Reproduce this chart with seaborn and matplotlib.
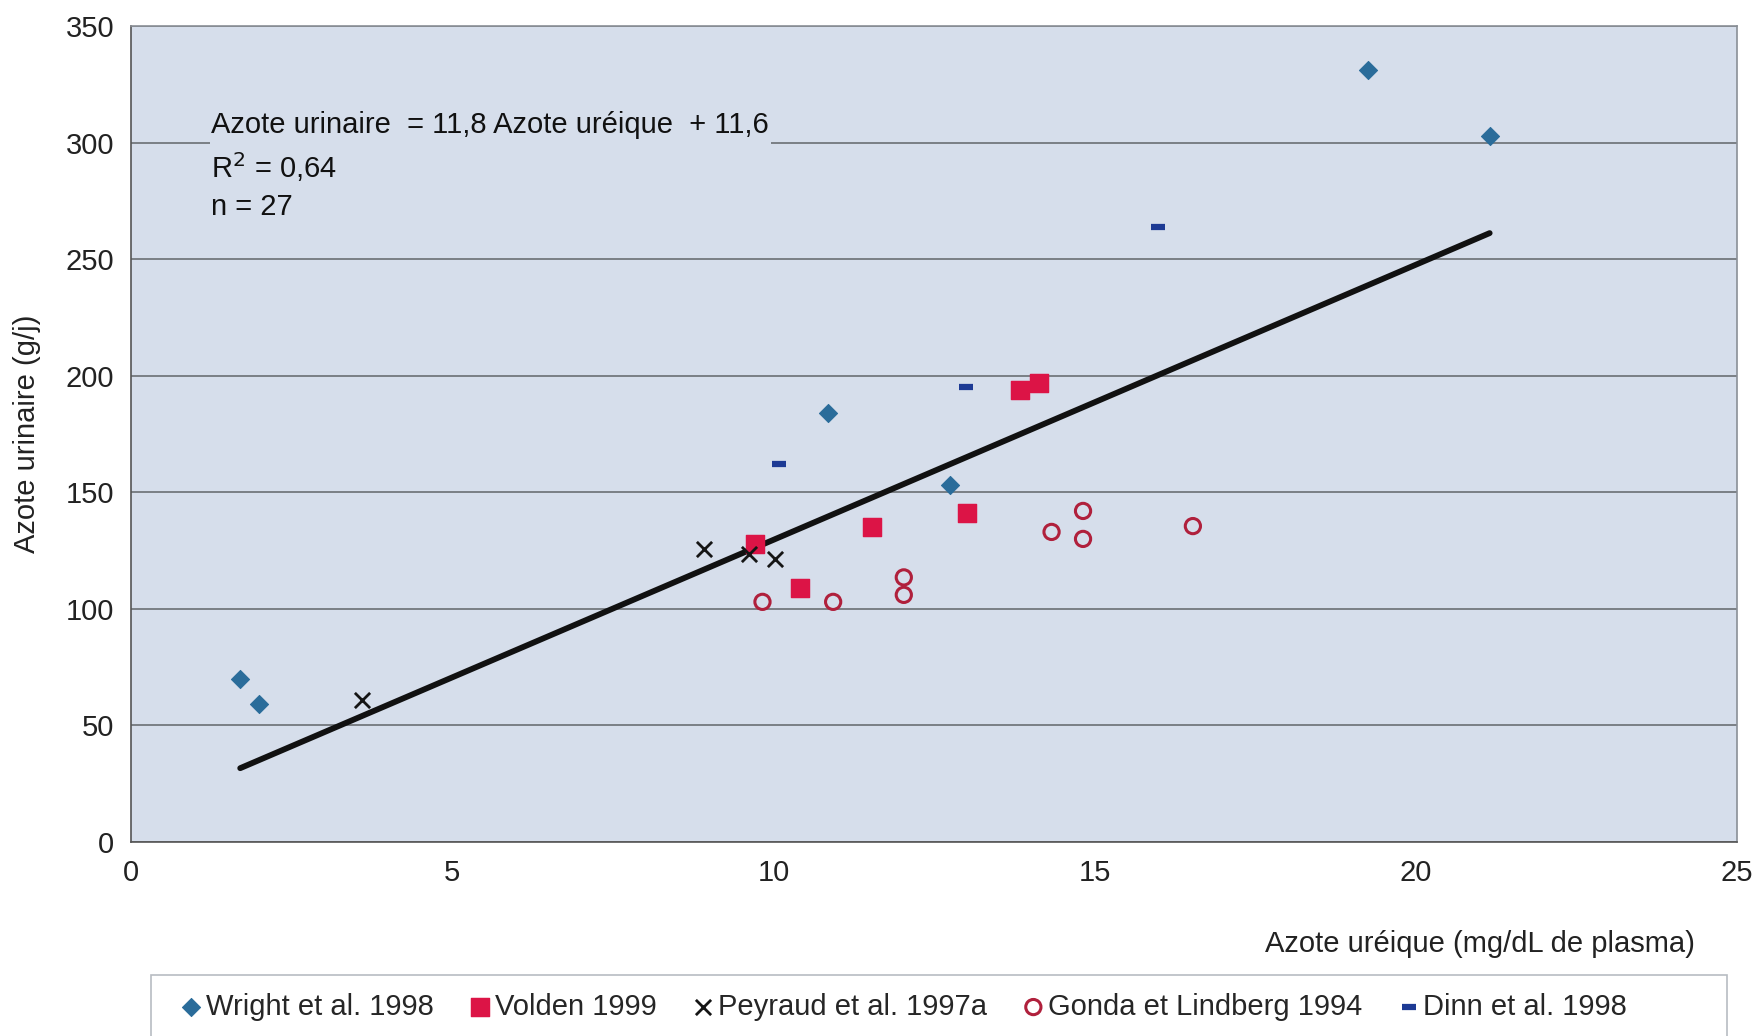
import numpy as np
import pandas as pd
import matplotlib.pyplot as plt
import matplotlib.patches as mpatches
import seaborn as sns

sns.set_theme(style='white')
plt.rcParams['font.family'] = ['Liberation Sans', 'DejaVu Sans']

# data
wright_x = [1.7, 2.0, 10.85, 12.75, 19.25, 21.15]
wright_y = [70, 59, 184, 153, 331, 303]
volden_x = [9.72, 10.42, 11.54, 13.02, 13.84, 14.14]
volden_y = [128, 109, 135, 141, 194, 197]
peyraud_x = [3.6, 8.92, 9.62, 10.02]
peyraud_y = [61, 125.5, 123.5, 121.5]
gonda_x = [9.83, 10.93, 12.03, 12.03, 14.33, 14.82, 14.82, 16.53]
gonda_y = [103, 103, 113.5, 106, 133, 142, 130, 135.5]
dinn_x = [10.09, 13.0, 15.99]
dinn_y = [162, 195, 264]

slope, intercept = 11.8, 11.6

bg = '#d6deeb'
fs = 21
fig = plt.figure(figsize=(17.58, 10.36), dpi=100)
ax = fig.add_axes([131 / 1758, 1 - 842 / 1036, (1737 - 131) / 1758, (842 - 26) / 1036])
ax.set_facecolor(bg)

series = [
    ('Wright et al. 1998', wright_x, wright_y, dict(marker='D', color='#2a6c9a', s=85, edgecolor='#2a6c9a')),
    ('Volden 1999', volden_x, volden_y, dict(marker='s', color='#dc1446', s=170, edgecolor='#dc1446')),
    ('Peyraud et al. 1997a', peyraud_x, peyraud_y, dict(marker='x', color='#151515', s=120, linewidth=2)),
    ('Gonda et Lindberg 1994', gonda_x, gonda_y, dict(marker='o', facecolor='none', edgecolor='#b0203c', s=120, linewidth=2.2)),
    ('Dinn et al. 1998', dinn_x, dinn_y, dict(marker='_', color='#1d3a94', s=90, linewidth=4.5)),
]

# regression line from the printed equation
all_x = wright_x + volden_x + peyraud_x + gonda_x + dinn_x
line_x = np.array([min(all_x), max(all_x)])
line = pd.DataFrame({'x': line_x, 'y': slope * line_x + intercept})
sns.lineplot(data=line, x='x', y='y', color='#111111', linewidth=4.2, ax=ax, zorder=3)

for name, xs, ys, kw in series:
    df = pd.DataFrame({'x': xs, 'y': ys})
    sns.scatterplot(data=df, x='x', y='y', ax=ax, label=name, zorder=4, **kw)

ax.set_xlim(0, 25)
ax.set_ylim(0, 350)
ax.set_xticks(range(0, 26, 5))
ax.set_yticks(range(0, 351, 50))
ax.yaxis.grid(True, color='#6b6f74', linewidth=1.2)
ax.set_axisbelow(True)
for sp in ax.spines.values():
    sp.set_color('#8a8f96')
    sp.set_linewidth(1.2)
ax.spines['left'].set_color('#555555')
ax.spines['bottom'].set_color('#555555')
ax.tick_params(axis='both', labelsize=fs, colors='#222222', length=0, pad=12)
ax.set_xlabel('')
ax.set_ylabel('Azote urinaire (g/j)', fontsize=fs, color='#222222', labelpad=18)
fig.text(1695 / 1758, 1 - 944 / 1036, 'Azote uréique (mg/dL de plasma)', ha='right', va='center',
         fontsize=fs, color='#222222')

ax.text(1.25, 313.5, 'Azote urinaire  = 11,8 Azote uréique  + 11,6\nR$^2$ = 0,64\nn = 27',
        fontsize=fs, color='#111111', va='top', linespacing=1.4,
        bbox=dict(facecolor=bg, edgecolor='none', pad=1))

# legend box drawn separately (wider than its content, as in the original)
fig.patches.append(mpatches.Rectangle((151 / 1758, -0.01), (1727 - 151) / 1758, 1 - 975 / 1036 + 0.01,
                                      transform=fig.transFigure, facecolor='white',
                                      edgecolor='#b8bcc2', linewidth=1.2))
ax.legend_.remove()
handles, labels = ax.get_legend_handles_labels()
leg = fig.legend(handles, labels, loc='lower center', bbox_to_anchor=(0.513, -0.012), ncol=5,
                 fontsize=fs, frameon=False, handletextpad=0.0, columnspacing=1.1,
                 handlelength=1.0, borderpad=0.45)

fig.savefig('out.png', dpi=100)
